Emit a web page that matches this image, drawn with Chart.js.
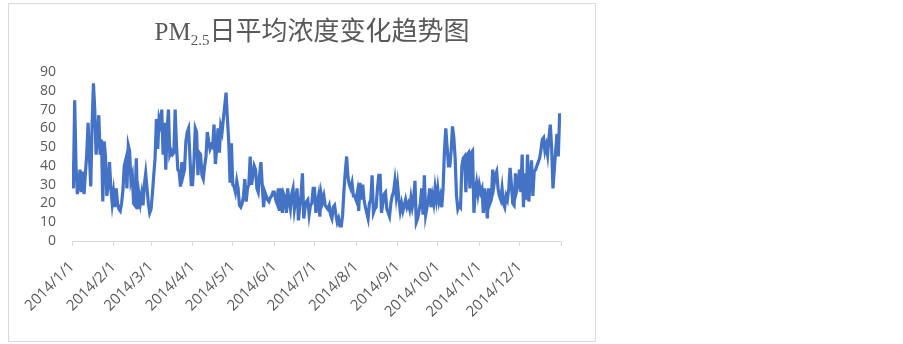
<!DOCTYPE html>
<html>
<head>
<meta charset="utf-8">
<script src="https://cdn.jsdelivr.net/npm/chart.js@4/dist/chart.umd.min.js"></script>
<style>
  body { margin: 0; background: #fff; }
  #box { position: absolute; left: 8px; top: 3px; width: 588px; height: 339px; border: 1px solid #d9d9d9; box-sizing: border-box; }
  #chart { display: block; }
</style>
</head>
<body>
<div id="box"><canvas id="chart" width="586" height="337"></canvas></div>
<script>
// daily PM2.5 values, one array per month (2014)
var jan = [42,28,75,40,25,30,38,26,37,25,36,46,63,45,29,62,84,70,46,55,67,46,54,21,53,45,24,30,42,28,20];
var feb = [26,18,28,20,17,16,20,27,40,43,28,51,48,32,35,20,19,44,17,25,20,25,19,30,36,28,20,15];
var mar = [17,25,35,44,65,49,65,62,70,46,63,38,60,70,46,48,46,47,70,51,38,37,29,42,35,38,53,58,60,45,30];
var apr = [30,42,60,58,35,47,46,35,33,40,45,58,53,49,51,50,62,41,49,60,47,61,58,65,72,79,65,53,31,52];
var may = [30,29,26,32,28,19,18,20,24,33,21,28,30,45,30,35,40,38,28,26,35,42,30,18,26,24,22,21,23,24,26];
var jun = [26,22,20,28,16,28,15,25,23,15,28,21,17,25,28,17,22,28,11,18,25,36,12,18,21,22,14,19,20,28];
var jul = [28,15,20,24,13,25,21,24,19,18,17,19,14,12,18,19,14,10,12,8,8,14,27,37,45,34,30,28,31,24,24];
var aug = [22,26,16,31,22,30,22,18,15,12,20,22,35,15,17,18,28,35,35,15,20,25,26,17,15,13,20,24,26,32,24];
var sep = [30,22,16,20,16,19,22,18,20,17,23,18,22,32,10,12,16,20,28,14,35,14,18,22,28,18,24,20,28,22];
var oct = [28,21,24,18,28,48,60,50,40,40,48,61,55,44,24,17,19,18,40,44,45,26,46,47,28,47,48,15,26,31,25];
var nov = [30,26,28,15,28,23,12,28,20,22,38,30,35,37,28,24,22,28,20,18,24,22,28,39,30,20,19,36,27,30];
var dec = [38,26,46,18,36,22,46,21,33,43,24,37,38,40,42,44,48,54,55,48,51,46,55,62,50,28,38,48,57,45,68];

var months = [jan, feb, mar, apr, may, jun, jul, aug, sep, oct, nov, dec];
var tickLabels = ["2014/1/1","2014/2/1","2014/3/1","2014/4/1","2014/5/1","2014/6/1",
                  "2014/7/1","2014/8/1","2014/9/1","2014/10/1","2014/11/1","2014/12/1"];
var yTicks = [0,10,20,30,40,50,60,70,80,90];

// build points (x = day of year) and month start positions
var points = [];
var monthStarts = [];
var day = 0;
months.forEach(function(m) {
  monthStarts.push(day);
  m.forEach(function(v) {
    points.push({ x: day, y: v });
    day++;
  });
});
var totalDays = day;

var grey = "#595959";

// title with subscript 2.5
var titlePlugin = {
  id: "pmTitle",
  afterDraw: function(chart) {
    var ctx = chart.ctx;
    ctx.save();
    ctx.fillStyle = grey;
    ctx.textBaseline = "alphabetic";
    var f1 = "25px 'Liberation Serif'";
    var f2 = "15px 'Liberation Serif'";
    var f3 = "26px 'Noto Sans CJK SC'";
    var cn = "日平均浓度变化趋势图";
    ctx.font = f1; var w1 = ctx.measureText("PM").width;
    ctx.font = f2; var w2 = ctx.measureText("2.5").width;
    ctx.font = f3; var w3 = ctx.measureText(cn).width;
    var x = 303 - (w1 + w2 + w3) / 2;
    var y = 36;
    ctx.font = f1; ctx.fillText("PM", x, y); x += w1;
    ctx.font = f2; ctx.fillText("2.5", x, y + 5); x += w2;
    ctx.font = f3; ctx.fillText(cn, x, y);
    ctx.restore();
  }
};

var ctx = document.getElementById("chart").getContext("2d");
var chart = new Chart(ctx, {
  type: "line",
  data: {
    datasets: [{
      label: "PM2.5",
      data: points,
      borderColor: "#4472C4",
      borderWidth: 3.2,
      pointRadius: 0,
      tension: 0,
      fill: false
    }]
  },
  options: {
    responsive: false,
    animation: false,
    layout: { padding: { top: 68, right: 34, left: 0, bottom: 0 } },
    plugins: { legend: { display: false }, tooltip: { enabled: false } },
    scales: {
      x: {
        type: "linear",
        min: 0,
        max: totalDays,
        afterBuildTicks: function(scale) {
          scale.ticks = monthStarts.concat([totalDays]).map(function(v) { return { value: v }; });
        },
        afterFit: function(scale) { scale.height = 100; },
        ticks: {
          autoSkip: false,
          maxRotation: 45,
          minRotation: 45,
          padding: 12,
          color: grey,
          font: { family: "'Open Sans'", size: 15 },
          callback: function(value) {
            var i = monthStarts.indexOf(value);
            return i >= 0 ? tickLabels[i] : "";
          }
        },
        grid: { display: true, drawOnChartArea: false, drawTicks: true, tickLength: 5, color: "#d9d9d9" },
        border: { display: true, color: "#d9d9d9" }
      },
      y: {
        min: 0,
        max: 90,
        afterBuildTicks: function(scale) {
          scale.ticks = yTicks.map(function(v) { return { value: v }; });
        },
        afterFit: function(scale) { scale.width = 63; },
        ticks: {
          autoSkip: false,
          padding: 16,
          color: grey,
          font: { family: "'Open Sans'", size: 14 }
        },
        grid: { display: false, drawTicks: false },
        border: { display: false }
      }
    }
  },
  plugins: [titlePlugin]
});
</script>
</body>
</html>
